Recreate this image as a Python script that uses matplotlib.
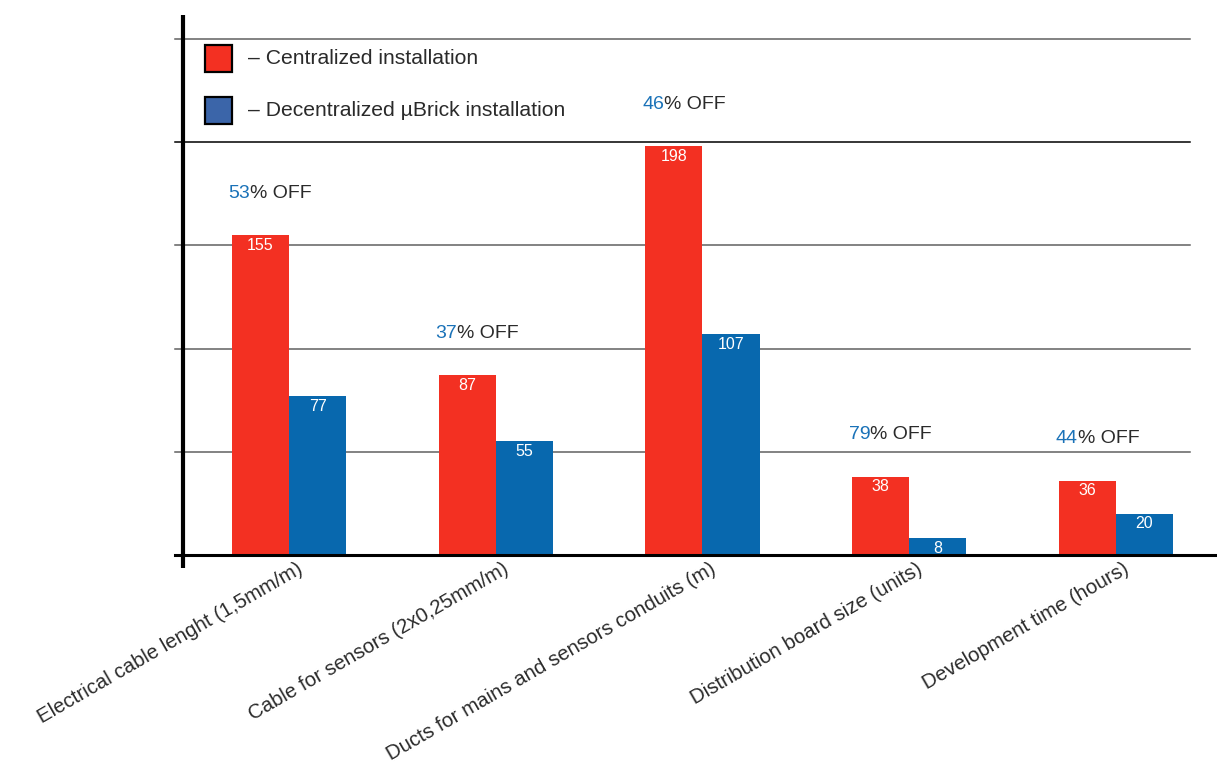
import matplotlib.pyplot as plt
import matplotlib.transforms as mtransforms
from matplotlib.patches import Rectangle

# cost items compared for the two installation types
categories = [
    "Electrical cable lenght (1,5mm/m)",
    "Cable for sensors (2x0,25mm/m)",
    "Ducts for mains and sensors conduits (m)",
    "Distribution board size (units)",
    "Development time (hours)",
]
centralized = [155, 87, 198, 38, 36]
decentralized = [77, 55, 107, 8, 20]
savings = ["53", "37", "46", "79", "44"]

series_names = ["– Centralized installation", "– Decentralized µBrick installation"]

RED = "#f33022"
BLUE = "#0868ae"
BLUE_KEY = "#3b65a9"
TEXT = "#2a2a2a"

plt.rcParams['font.family'] = ['Liberation Sans', 'DejaVu Sans']

fig = plt.figure(figsize=(12.17, 7.69), dpi=100)
ax = fig.add_axes([183 / 1217, 214 / 769, 1034 / 1217, 541 / 769])

x = list(range(len(categories)))
width = 0.277

ax.set_xlim(-0.513, 4.489)
ax.set_ylim(0, 262)

# horizontal guide lines, the one at 200 is drawn darker
for y in [50, 100, 150, 200, 250]:
    ax.axhline(y, xmin=-0.008, xmax=0.974, color="black" if y == 200 else "#606060",
               lw=1.1, clip_on=False, zorder=1)

red_bars = ax.bar([i - width / 2 for i in x], centralized, width, color=RED, zorder=2)
blue_bars = ax.bar([i + width / 2 for i in x], decentralized, width, color=BLUE, zorder=2)

# values written just under the top of each bar
for bars, vals in [(red_bars, centralized), (blue_bars, decentralized)]:
    for b, v in zip(bars, vals):
        ax.annotate(str(v), (b.get_x() + b.get_width() / 2, v), xytext=(0, -2),
                    textcoords="offset points", ha="center", va="top",
                    color="white", fontsize=11.5, zorder=4)

# "xx% OFF" above each group, number in blue
for i, (v, s) in enumerate(zip(centralized, savings)):
    num = ax.annotate(s, (i - width - 0.015, v), xytext=(0, 30),
                      textcoords="offset points", ha="left", va="center",
                      color="#1a72b8", fontsize=14)
    ax.annotate("% OFF", xy=(1, 0.5), xycoords=num, ha="left", va="center",
                color=TEXT, fontsize=14)

# axis lines
ax.plot([0, 0], [-0.024, 0.998], transform=ax.transAxes, color="black", lw=3,
        solid_capstyle="butt", clip_on=False, zorder=5)
ax.axhline(0, xmin=-0.008, xmax=1, color="black", lw=2.2, clip_on=False, zorder=5)
for side in ["left", "right", "top", "bottom"]:
    ax.spines[side].set_visible(False)

ax.set_yticks([])
ax.set_xticks(x)
ax.set_xticklabels(categories, rotation=30, ha="right", rotation_mode="anchor",
                   fontsize=14.7, color=TEXT)
ax.tick_params(axis="x", length=0, pad=3)
shift = mtransforms.ScaledTranslation(5 / 72, 0, fig.dpi_scale_trans)
for lbl in ax.get_xticklabels():
    lbl.set_transform(lbl.get_transform() + shift)

# hand-drawn key in the upper left corner
for (y0, color), name in zip([(0.893, RED), (0.797, BLUE_KEY)], series_names):
    ax.add_patch(Rectangle((0.0213, y0), 0.0261, 0.05, transform=ax.transAxes,
                           facecolor=color, edgecolor="black", lw=1.6, zorder=5))
    ax.text(0.0629, y0 + 0.025, name, transform=ax.transAxes, ha="left",
            va="center", fontsize=15.2, color=TEXT)

fig.savefig("out.png", dpi=100)
